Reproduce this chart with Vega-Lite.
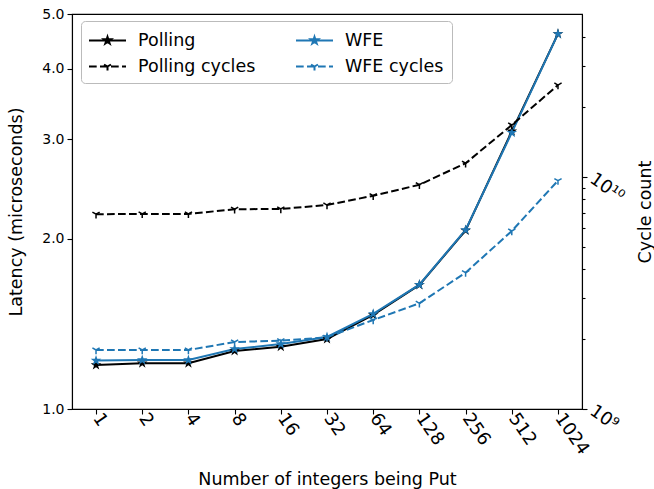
{
  "$schema": "https://vega.github.io/schema/vega-lite/v6.json",
  "width": 510,
  "height": 395,
  "autosize": {"type": "none"},
  "padding": {"left": 72, "right": 72, "top": 14, "bottom": 80},
  "datasets": {
    "lat": [
      {"n": "1", "series": "Polling", "v": 1.196},
      {"n": "2", "series": "Polling", "v": 1.205},
      {"n": "4", "series": "Polling", "v": 1.205},
      {"n": "8", "series": "Polling", "v": 1.267},
      {"n": "16", "series": "Polling", "v": 1.289},
      {"n": "32", "series": "Polling", "v": 1.33},
      {"n": "64", "series": "Polling", "v": 1.467},
      {"n": "128", "series": "Polling", "v": 1.658},
      {"n": "256", "series": "Polling", "v": 2.07},
      {"n": "512", "series": "Polling", "v": 3.1},
      {"n": "1024", "series": "Polling", "v": 4.61},
      {"n": "1", "series": "WFE", "v": 1.218},
      {"n": "2", "series": "WFE", "v": 1.221},
      {"n": "4", "series": "WFE", "v": 1.221},
      {"n": "8", "series": "WFE", "v": 1.277},
      {"n": "16", "series": "WFE", "v": 1.303},
      {"n": "32", "series": "WFE", "v": 1.341},
      {"n": "64", "series": "WFE", "v": 1.473},
      {"n": "128", "series": "WFE", "v": 1.66},
      {"n": "256", "series": "WFE", "v": 2.074},
      {"n": "512", "series": "WFE", "v": 3.083},
      {"n": "1024", "series": "WFE", "v": 4.61}
    ],
    "cyc": [
      {"n": "1", "series": "Polling cycles", "c": 6910000000},
      {"n": "2", "series": "Polling cycles", "c": 6930000000},
      {"n": "4", "series": "Polling cycles", "c": 6930000000},
      {"n": "8", "series": "Polling cycles", "c": 7260000000},
      {"n": "16", "series": "Polling cycles", "c": 7280000000},
      {"n": "32", "series": "Polling cycles", "c": 7570000000},
      {"n": "64", "series": "Polling cycles", "c": 8300000000},
      {"n": "128", "series": "Polling cycles", "c": 9260000000},
      {"n": "256", "series": "Polling cycles", "c": 11460000000},
      {"n": "512", "series": "Polling cycles", "c": 16750000000},
      {"n": "1024", "series": "Polling cycles", "c": 24900000000},
      {"n": "1", "series": "WFE cycles", "c": 1796000000},
      {"n": "2", "series": "WFE cycles", "c": 1796000000},
      {"n": "4", "series": "WFE cycles", "c": 1796000000},
      {"n": "8", "series": "WFE cycles", "c": 1944000000},
      {"n": "16", "series": "WFE cycles", "c": 1970000000},
      {"n": "32", "series": "WFE cycles", "c": 2037000000},
      {"n": "64", "series": "WFE cycles", "c": 2419000000},
      {"n": "128", "series": "WFE cycles", "c": 2855000000},
      {"n": "256", "series": "WFE cycles", "c": 3868000000},
      {"n": "512", "series": "WFE cycles", "c": 5850000000},
      {"n": "1024", "series": "WFE cycles", "c": 9640000000}
    ],
    "leg": [
      {"series": "Polling"},
      {"series": "Polling cycles"},
      {"series": "WFE"},
      {"series": "WFE cycles"}
    ]
  },
  "layer": [
    {
      "data": {"name": "lat"},
      "encoding": {
        "x": {
          "field": "n",
          "type": "ordinal",
          "sort": ["1", "2", "4", "8", "16", "32", "64", "128", "256", "512", "1024"],
          "scale": {"type": "point", "padding": 0.52},
          "axis": {
            "title": "Number of integers being Put",
            "labelAngle": 55,
            "labelAlign": "left",
            "labelBaseline": "middle",
            "labelFontSize": 18,
            "labelPadding": 1,
            "titlePadding": 13
          }
        },
        "y": {
          "field": "v",
          "type": "quantitative",
          "scale": {"type": "log", "domain": [1, 5], "nice": false},
          "axis": {
            "orient": "left",
            "title": "Latency (microseconds)",
            "values": [1, 2, 3, 4, 5],
            "format": ".1f",
            "labelOverlap": false,
            "labelFlush": false,
            "titlePadding": 16
          }
        },
        "color": {
          "field": "series",
          "type": "nominal",
          "scale": {"domain": ["WFE", "WFE cycles", "Polling", "Polling cycles"], "range": ["#1f77b4", "#1f77b4", "#000000", "#000000"]},
          "legend": null
        }
      },
      "layer": [
        {"mark": {"type": "line", "strokeWidth": 2}},
        {"mark": {"type": "point", "filled": true, "opacity": 1, "size": 125, "shape": "M0,-1L0.2245,-0.309L0.9511,-0.309L0.3633,0.118L0.5878,0.809L0,0.382L-0.5878,0.809L-0.3633,0.118L-0.9511,-0.309L-0.2245,-0.309Z"}}
      ]
    },
    {
      "data": {"name": "cyc"},
      "encoding": {
        "x": {
          "field": "n",
          "type": "ordinal",
          "sort": ["1", "2", "4", "8", "16", "32", "64", "128", "256", "512", "1024"],
          "scale": {"type": "point", "padding": 0.52}
        },
        "y": {
          "field": "c",
          "type": "quantitative",
          "scale": {"type": "log", "domain": [1000000000, 50400000000], "nice": false},
          "axis": {
            "orient": "right",
            "title": "Cycle count",
            "titleAngle": 270,
            "titleBaseline": "top",
            "values": [1000000000, 2000000000, 3000000000, 4000000000, 5000000000, 6000000000, 7000000000, 8000000000, 9000000000, 10000000000, 20000000000, 30000000000, 40000000000],
            "labelExpr": "datum.value == 1000000000 ? '10⁹' : (datum.value == 10000000000 ? '10¹⁰' : '')",
            "tickSize": {"condition": {"test": "datum.value == 1000000000 || datum.value == 10000000000", "value": 5}, "value": 3},
            "labelAngle": 35,
            "labelAlign": "left",
            "labelBaseline": "middle",
            "labelFontSize": 18,
            "labelOverlap": false,
            "labelFlush": false,
            "labelPadding": 4,
            "titlePadding": 10
          }
        },
        "color": {
          "field": "series",
          "type": "nominal",
          "scale": {"domain": ["WFE", "WFE cycles", "Polling", "Polling cycles"], "range": ["#1f77b4", "#1f77b4", "#000000", "#000000"]},
          "legend": null
        }
      },
      "layer": [
        {"mark": {"type": "line", "strokeWidth": 2, "strokeDash": [7.7, 3.3]}},
        {"mark": {"type": "point", "filled": false, "opacity": 1, "size": 70, "strokeWidth": 1.5, "shape": "M0,0L0,1M0,0L-0.866,-0.5M0,0L0.866,-0.5"}}
      ]
    },
    {
      "data": {"name": "leg"},
      "mark": {"type": "point", "filled": true, "opacity": 1, "size": 0},
      "encoding": {
        "fill": {
          "field": "series",
          "type": "nominal",
          "scale": {"domain": ["Polling", "Polling cycles", "WFE", "WFE cycles"], "range": ["#000000", "#000000", "#1f77b4", "#1f77b4"]},
          "legend": {"title": null, "orient": "none", "legendX": 9, "legendY": 7, "columns": 2, "direction": "vertical", "symbolSize": 441}
        },
        "stroke": {
          "field": "series",
          "type": "nominal",
          "scale": {"domain": ["Polling", "Polling cycles", "WFE", "WFE cycles"], "range": ["#000000", "#000000", "#1f77b4", "#1f77b4"]},
          "legend": {"title": null, "orient": "none", "legendX": 9, "legendY": 7, "columns": 2, "direction": "vertical", "symbolSize": 441}
        },
        "shape": {
          "field": "series",
          "type": "nominal",
          "scale": {
            "domain": ["Polling", "Polling cycles", "WFE", "WFE cycles"],
            "range": [
              "M-1.762,0H1.762M0,-0.35L0.0786,-0.1082L0.3329,-0.1082L0.1272,0.0413L0.2057,0.2832L0,0.1337L-0.2057,0.2832L-0.1272,0.0413L-0.3329,-0.1082L-0.0786,-0.1082Z",
              "M-1.762,0H-1.029M-0.714,0H0.019M0.333,0H1.067M1.381,0H1.762M0,0L0,0.38M0,0L-0.329,-0.19M0,0L0.329,-0.19",
              "M-1.762,0H1.762M0,-0.35L0.0786,-0.1082L0.3329,-0.1082L0.1272,0.0413L0.2057,0.2832L0,0.1337L-0.2057,0.2832L-0.1272,0.0413L-0.3329,-0.1082L-0.0786,-0.1082Z",
              "M-1.762,0H-1.029M-0.714,0H0.019M0.333,0H1.067M1.381,0H1.762M0,0L0,0.38M0,0L-0.329,-0.19M0,0L0.329,-0.19"
            ]
          },
          "legend": {"title": null, "orient": "none", "legendX": 9, "legendY": 7, "columns": 2, "direction": "vertical", "symbolSize": 441}
        }
      }
    }
  ],
  "resolve": {"scale": {"y": "independent"}},
  "config": {
    "font": "DejaVu Sans",
    "view": {"stroke": "#000000", "strokeWidth": 1.1},
    "axis": {
      "domainColor": "#000000",
      "domainWidth": 1.1,
      "tickColor": "#000000",
      "tickWidth": 1.1,
      "tickSize": 5,
      "labelColor": "#000000",
      "titleColor": "#000000",
      "labelFontSize": 14,
      "titleFontSize": 17.5,
      "titleFontWeight": "normal",
      "grid": false,
      "labelPadding": 3
    },
    "legend": {
      "labelFontSize": 17.5,
      "labelColor": "#000000",
      "strokeColor": "#bbbbbb",
      "fillColor": "#ffffff",
      "cornerRadius": 4,
      "padding": 8,
      "rowPadding": 6,
      "columnPadding": 35,
      "labelOffset": 19,
      "symbolOffset": 7,
      "symbolSize": 441,
      "symbolStrokeWidth": 2,
      "symbolOpacity": 1
    }
  }
}
